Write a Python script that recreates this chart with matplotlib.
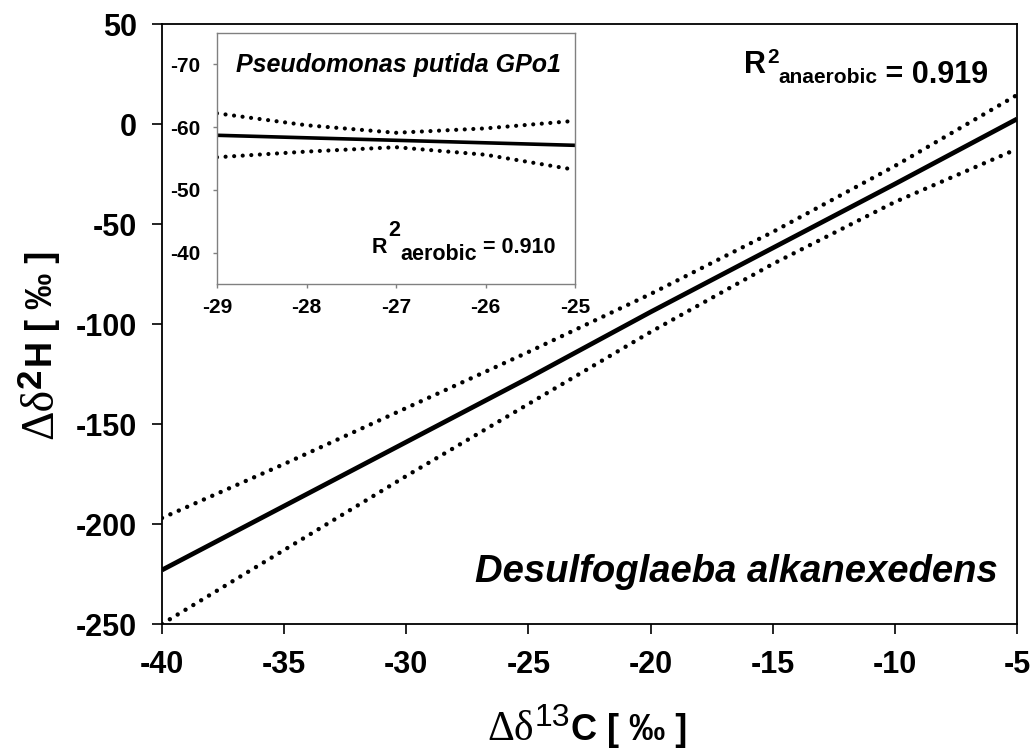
import matplotlib
matplotlib.use('Agg')
import matplotlib.pyplot as plt

plt.rcParams['font.family'] = ['Liberation Sans', 'DejaVu Sans']
plt.rcParams['font.weight'] = 'bold'
plt.rcParams['axes.unicode_minus'] = False

# main panel: anaerobic regression with 95% confidence band
x_main = [-40, -35, -30, -25, -20, -15, -10, -5]
fit_main = [-223, -191, -159, -127, -94, -62, -30, 2.5]
upper_main = [-197, -170, -142, -114, -85, -54, -21, 14.5]
lower_main = [-250, -213, -176, -140, -104, -70, -39, -12.5]

# inset: aerobic regression
x_inset = [-29, -28, -27, -26, -25]
fit_inset = [-58.7, -58.3, -57.9, -57.5, -57.1]
upper_inset = [-62.2, -60.3, -59.1, -59.8, -61.0]
lower_inset = [-55.2, -56.1, -56.8, -55.6, -53.2]

main_xticks = [-40, -35, -30, -25, -20, -15, -10, -5]
main_yticks = [-250, -200, -150, -100, -50, 0, 50]
inset_xticks = [-29, -28, -27, -26, -25]
inset_yticks = [-70, -60, -50, -40]

DOT = (0, (0.01, 2.05))


def chain(ax, x, y, parts, transform, rotation=0):
    """write text pieces one after another, each (text, kwargs, (along, raise))"""
    s, kw, _ = parts[0]
    if rotation:
        t = ax.text(x, y, s, transform=transform, rotation=90, rotation_mode='anchor',
                    ha='left', va='baseline', **kw)
    else:
        t = ax.text(x, y, s, transform=transform, ha='left', va='baseline', **kw)
    for s, kw, (along, up) in parts[1:]:
        if rotation:
            t = ax.annotate(s, xy=(x, 1), xycoords=(transform, t), xytext=(-up, along),
                            textcoords='offset points', rotation=90, rotation_mode='anchor',
                            ha='left', va='baseline', **kw)
        else:
            t = ax.annotate(s, xy=(1, y), xycoords=(t, transform), xytext=(along, up),
                            textcoords='offset points', ha='left', va='baseline', **kw)
    return t


fig = plt.figure(figsize=(10.35, 7.55), dpi=100)
ax = fig.add_axes([162 / 1035, 1 - 624 / 755, 855 / 1035, 600 / 755])

ax.plot(x_main, fit_main, color='black', lw=3.4, solid_capstyle='butt')
ax.plot(x_main, upper_main, color='black', lw=3.2, ls=DOT, dash_capstyle='round')
ax.plot(x_main, lower_main, color='black', lw=3.2, ls=DOT, dash_capstyle='round')

ax.set_xlim(-40, -5)
ax.set_ylim(-250, 50)
ax.set_xticks(main_xticks)
ax.set_yticks(main_yticks)
ax.tick_params(direction='out', length=7, width=1.2, labelsize=22)
ax.tick_params(axis='x', pad=12)
ax.tick_params(axis='y', pad=11)
for sp in ax.spines.values():
    sp.set_linewidth(1.3)

ax.text(0.977, 0.07, 'Desulfoglaeba alkanexedens', transform=ax.transAxes,
        ha='right', va='baseline', fontsize=27.5, style='italic')

big = dict(fontsize=22)
small = dict(fontsize=15)
chain(ax, 0.681, 0.918, [('R', big, (0, 0)),
                         ('2', small, (0.5, 7.2)),
                         ('anaerobic', small, (0, -6.8)),
                         (' = 0.919', big, (0, -7.2))], ax.transAxes)

# axis labels: serif delta, sans letters
lab = dict(fontsize=26)
serif_x = dict(fontsize=30, family='Liberation Serif', weight='normal')
sup_x = dict(fontsize=23, weight='normal')
chain(ax, 0.4705, 0.02, [('Δδ', serif_x, (0, 0)),
                         ('13', sup_x, (0.5, 10)),
                         ('C [ ‰ ]', lab, (1, 0))], fig.transFigure)
serif_y = dict(fontsize=33, family='Liberation Serif', weight='normal')
sup_y = dict(fontsize=25)
chain(ax, 0.050, 0.418, [('Δδ', serif_y, (0, 0)),
                         ('2', sup_y, (0.5, 8)),
                         ('H [ ‰ ]', lab, (1, 0))], fig.transFigure, rotation=90)

# inset
ins = fig.add_axes([217 / 1035, 1 - 284 / 755, 358 / 1035, 251 / 755])
ins.plot(x_inset, fit_inset, color='black', lw=2.6, solid_capstyle='butt')
ins.plot(x_inset, upper_inset, color='black', lw=3.0, ls=DOT, dash_capstyle='round')
ins.plot(x_inset, lower_inset, color='black', lw=3.0, ls=DOT, dash_capstyle='round')
ins.set_xlim(-29, -25)
ins.set_ylim(-35, -75)
ins.set_xticks(inset_xticks)
ins.set_yticks(inset_yticks)
ins.tick_params(direction='out', length=3, width=1, labelsize=15, color='#808080')
ins.tick_params(axis='x', pad=7)
ins.tick_params(axis='y', pad=9)
for sp in ins.spines.values():
    sp.set_color('#808080')
    sp.set_linewidth(1.0)

ins.text(0.506, 0.845, 'Pseudomonas putida GPo1', transform=ins.transAxes,
         ha='center', va='baseline', fontsize=18, style='italic')
mid = dict(fontsize=15.5)
chain(ins, 0.433, 0.1235, [('R', mid, (0, 0)),
                           ('2', mid, (0.3, 12)),
                           ('aerobic', mid, (0.3, -4.8)),
                           (' = 0.910', mid, (0, 0))], ins.transAxes)

fig.savefig('out.png', dpi=100)
